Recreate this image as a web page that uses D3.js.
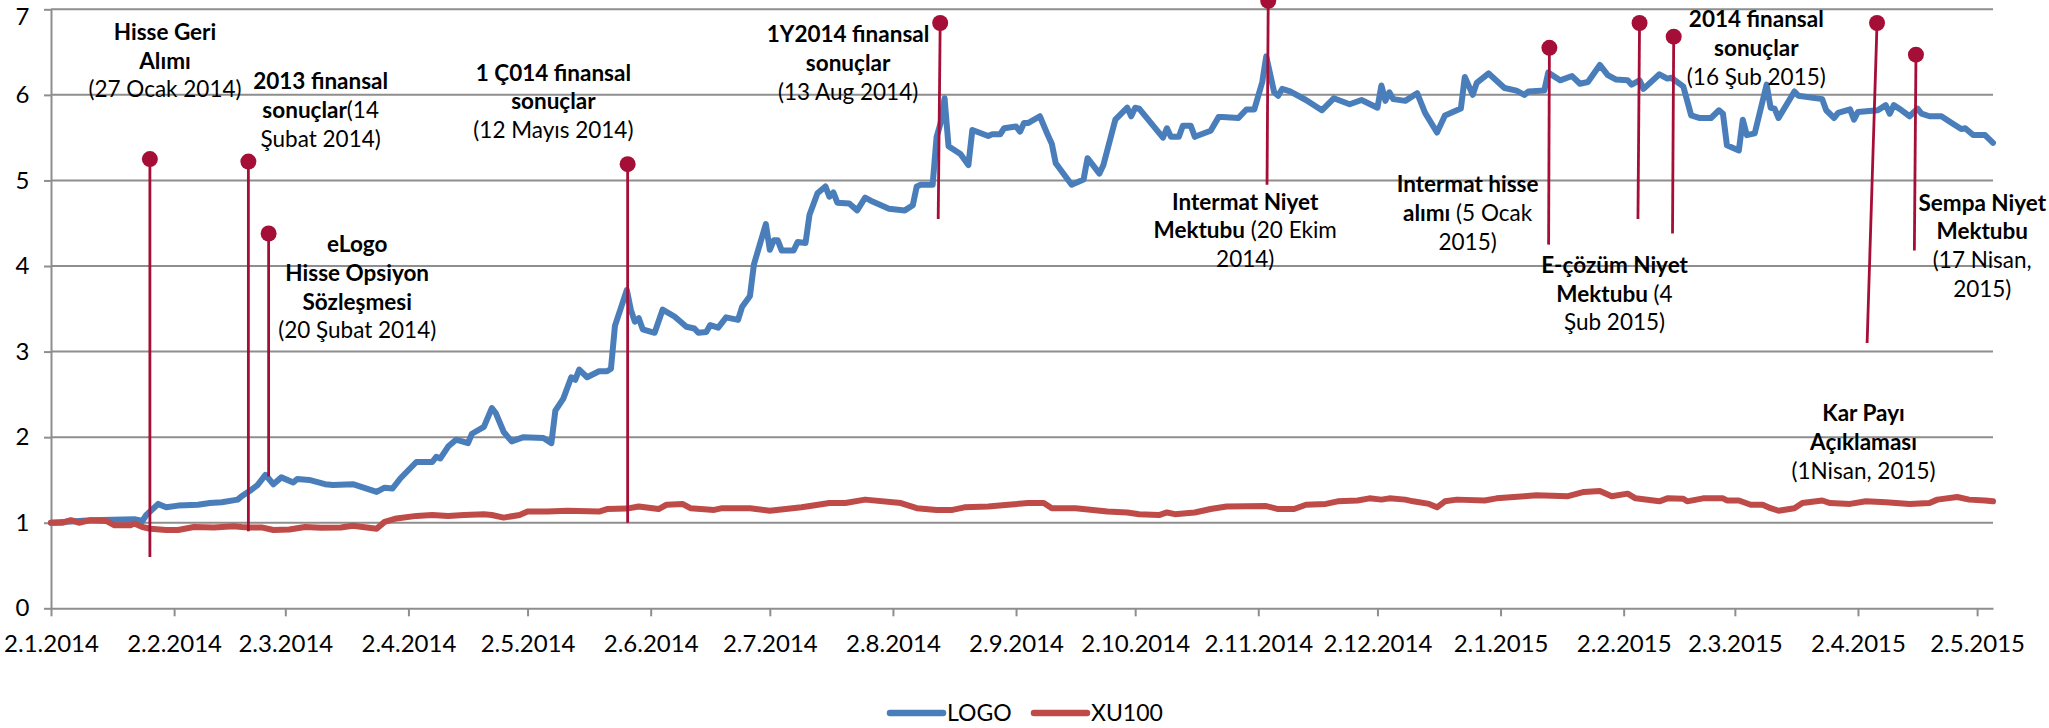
<!DOCTYPE html>
<html>
<head>
<meta charset="utf-8">
<script src="https://cdn.jsdelivr.net/npm/d3@7"></script>
<style>
	body { margin: 0; background: #fff; }
	#chart text { font-family: Lato, "Liberation Sans", Arial, sans-serif; fill: #000; }
</style>
</head>
<body>
<div id="chart"></div>
<script>
// LOGO vs XU100, both rebased to 1 on 2.1.2014
let startDate = "2.1.2014";

let xTickLabels = ["2.1.2014", "2.2.2014", "2.3.2014", "2.4.2014", "2.5.2014", "2.6.2014",
	"2.7.2014", "2.8.2014", "2.9.2014", "2.10.2014", "2.11.2014", "2.12.2014",
	"2.1.2015", "2.2.2015", "2.3.2015", "2.4.2015", "2.5.2015"];
let yTicks = [0, 1, 2, 3, 4, 5, 6, 7];

// days since startDate
let logoDays = [0,10,21,23,24,27,29,32,37,40,43,47,48,50,52,54,56,58,61,62,65,69,71,76,82,84,86,88,92,96,97,98,100,102,105,106,109,111,112,114,116,119,124,126,127,129,131,132,133,135,138,140,141,142,145,146,147,148,149,152,154,157,160,162,163,165,166,168,170,173,174,176,177,180,181,182,183,184,187,188,190,191,193,195,196,197,198,201,203,205,207,211,215,217,218,219,222,223,224,225,226,229,231,232,236,237,239,240,243,244,245,246,249,251,252,253,257,260,261,264,265,268,271,272,273,274,280,281,282,284,285,287,288,292,294,295,299,301,303,305,306,308,309,310,312,316,320,323,327,330,334,335,336,337,338,341,344,346,349,351,355,356,358,359,362,366,369,371,372,376,377,380,383,385,387,390,392,394,397,398,400,401,405,407,408,411,413,415,418,420,421,422,425,426,427,429,432,433,434,435,439,440,446,447,449,450,453,454,455,460,462,463,464,466,468,470,471,473,476,479,481,482,484,487,489];
let logoValues = [1.00,1.03,1.04,1.02,1.09,1.22,1.18,1.20,1.21,1.23,1.24,1.27,1.31,1.37,1.44,1.56,1.45,1.53,1.47,1.51,1.50,1.45,1.44,1.45,1.36,1.41,1.40,1.52,1.71,1.71,1.77,1.75,1.89,1.97,1.93,2.04,2.12,2.34,2.28,2.06,1.95,2.00,1.99,1.93,2.31,2.45,2.70,2.67,2.79,2.70,2.77,2.77,2.80,3.30,3.72,3.49,3.35,3.39,3.26,3.22,3.49,3.41,3.29,3.27,3.22,3.23,3.31,3.28,3.40,3.37,3.52,3.65,4.02,4.49,4.19,4.30,4.30,4.18,4.18,4.28,4.27,4.60,4.85,4.93,4.81,4.86,4.74,4.73,4.65,4.80,4.75,4.67,4.65,4.71,4.93,4.95,4.95,5.51,5.67,5.96,5.40,5.31,5.18,5.59,5.52,5.54,5.54,5.61,5.63,5.57,5.67,5.67,5.75,5.53,5.43,5.20,4.95,5.01,5.26,5.08,5.18,5.71,5.85,5.75,5.85,5.84,5.50,5.61,5.51,5.51,5.64,5.64,5.51,5.58,5.74,5.74,5.73,5.83,5.83,6.15,6.45,6.03,5.99,6.07,6.04,5.94,5.82,5.96,5.89,5.94,5.85,6.11,5.93,6.03,5.95,5.93,6.02,5.79,5.56,5.76,5.84,6.21,6.00,6.14,6.25,6.08,6.05,6.00,6.04,6.05,6.26,6.17,6.22,6.13,6.15,6.35,6.23,6.18,6.17,6.12,6.17,6.07,6.24,6.19,6.20,6.10,5.76,5.73,5.73,5.82,5.78,5.41,5.35,5.71,5.53,5.55,6.12,5.85,5.84,5.73,6.04,5.99,5.95,5.82,5.73,5.79,5.83,5.71,5.80,5.82,5.88,5.78,5.88,5.82,5.75,5.84,5.78,5.75,5.75,5.66,5.60,5.61,5.53,5.53,5.44];

let xuDays = [0,3,5,7,10,14,16,20,21,23,25,29,32,36,41,46,48,50,53,56,60,64,68,73,76,82,84,87,92,96,100,104,109,111,114,118,120,125,130,138,140,145,148,153,155,159,161,167,169,176,181,189,196,200,205,214,218,223,227,230,236,241,246,250,252,258,266,271,274,279,281,283,288,292,296,306,309,313,316,321,324,329,332,335,337,341,343,347,349,351,354,361,364,371,374,382,386,390,393,397,399,405,407,411,412,416,421,422,425,428,431,433,435,439,441,446,448,453,457,462,468,473,475,480,483,487,489];
let xuValues = [1.00,1.00,1.03,1.00,1.03,1.02,0.97,0.97,0.99,0.95,0.93,0.915,0.915,0.95,0.945,0.96,0.95,0.945,0.945,0.915,0.92,0.95,0.94,0.945,0.965,0.93,1.01,1.05,1.08,1.09,1.08,1.09,1.10,1.09,1.06,1.09,1.13,1.13,1.14,1.13,1.16,1.165,1.19,1.16,1.21,1.22,1.17,1.15,1.17,1.17,1.14,1.18,1.23,1.23,1.27,1.23,1.17,1.15,1.15,1.18,1.19,1.21,1.23,1.23,1.17,1.17,1.13,1.12,1.10,1.09,1.12,1.10,1.12,1.16,1.19,1.195,1.16,1.16,1.21,1.22,1.25,1.26,1.285,1.27,1.285,1.27,1.25,1.22,1.18,1.25,1.27,1.26,1.285,1.31,1.32,1.31,1.36,1.37,1.31,1.34,1.285,1.25,1.285,1.28,1.25,1.285,1.285,1.26,1.26,1.21,1.21,1.17,1.14,1.17,1.23,1.26,1.23,1.22,1.25,1.24,1.22,1.23,1.27,1.30,1.27,1.26,1.25];

// event pins: head and foot of each pin (day, value)
let pinHeadDays = [24.9, 49.7, 54.8, 145.2, 223.9, 306.5, 377.3, 400.0, 408.6, 459.8, 469.6];
let pinFootDays = [24.9, 49.7, 54.8, 145.2, 223.4, 306.2, 377.1, 399.6, 408.3, 457.3, 469.2];
let pinHeadValues = [5.25, 5.22, 4.38, 5.19, 6.84, 7.10, 6.55, 6.84, 6.68, 6.84, 6.47];
let pinFootValues = [0.60, 0.90, 1.54, 1.00, 4.55, 4.95, 4.25, 4.55, 4.38, 3.10, 4.18];

// notes, *...* is bold; anchored at the centre of the first line
let noteLines = [
	["*Hisse Geri*", "*Alımı*", "(27 Ocak 2014)"],
	["*2013 finansal*", "*sonuçlar*(14", "Şubat 2014)"],
	["*1 Ç014 finansal*", "*sonuçlar*", "(12 Mayıs 2014)"],
	["*eLogo*", "*Hisse Opsiyon*", "*Sözleşmesi*", "(20 Şubat 2014)"],
	["*1Y2014 finansal*", "*sonuçlar*", "(13 Aug 2014)"],
	["*Intermat Niyet*", "*Mektubu* (20 Ekim", "2014)"],
	["*Intermat hisse*", "*alımı* (5 Ocak", "2015)"],
	["*E-çözüm Niyet*", "*Mektubu* (4", "Şub 2015)"],
	["*2014 finansal*", "*sonuçlar*", "(16 Şub 2015)"],
	["*Sempa Niyet*", "*Mektubu*", "(17 Nisan,", "2015)"],
	["*Kar Payı*", "*Açıklaması*", "(1Nisan, 2015)"]
];
let noteDays = [28.7, 67.9, 126.5, 77.1, 200.7, 300.7, 356.7, 393.7, 429.4, 486.3, 456.4];
let noteValues = [6.735, 6.162, 6.26, 4.254, 6.708, 4.752, 4.955, 4.012, 6.883, 4.740, 2.279];

let seriesNames = ["LOGO", "XU100"];
let seriesColors = ["#4a7ebb", "#be4b48"];

function logoChart() {
	let container = "#chart",
		window_w = 2049,
		window_h = 728;

	let margin = {top: 9.3, right: 56, bottom: 119.7, left: 51},
		width = window_w - (margin.left + margin.right),
		height = window_h - (margin.top + margin.bottom);

	let gridColor = "#8e8e8e",
		pinColor = "#a50f37",
		lineGap = 28.7,
		noteSize = 22.5;

	let parseDate = d3.utcParse("%d.%m.%Y");
	let start = parseDate(startDate);
	let dayToDate = function (d) {
		return new Date(start.getTime() + d * 864e5);
	};

	let svg = d3.select(container)
		.append("svg")
		.attr("width", window_w)
		.attr("height", window_h);

	let plot = svg.append("g")
		.attr("transform", "translate(" + margin.left + "," + margin.top + ")");

	let x = d3.scaleUtc()
		.domain([start, dayToDate(logoDays[logoDays.length - 1])])
		.range([0, width]);

	let y = d3.scaleLinear()
		.domain([0, 7])
		.range([height, 0]);

	// gridlines
	plot.append("g")
		.attr("class", "grid")
		.selectAll("line")
		.data(yTicks.filter(function (t) { return t > 0; }))
		.join("line")
		.attr("x1", 0)
		.attr("x2", width)
		.attr("y1", function (d) { return y(d); })
		.attr("y2", function (d) { return y(d); })
		.attr("stroke", gridColor)
		.attr("stroke-width", 2);

	// axes
	let yAxis = plot.append("g")
		.call(d3.axisLeft(y)
			.tickValues(yTicks)
			.tickSize(7)
			.tickSizeOuter(0)
			.tickPadding(14.5)
			.tickFormat(d3.format("d")));

	let xAxis = plot.append("g")
		.attr("transform", "translate(0," + height + ")")
		.call(d3.axisBottom(x)
			.tickValues(xTickLabels.map(parseDate))
			.tickSize(8)
			.tickSizeOuter(0)
			.tickPadding(18.7)
			.tickFormat(function (d, i) { return xTickLabels[i]; }));

	[yAxis, xAxis].forEach(function (a) {
		a.attr("font-family", null).attr("font-size", 24);
		a.selectAll("line, path").attr("stroke", gridColor).attr("stroke-width", 2);
	});

	// top label sits on the page edge, nudge it so it is not clipped
	yAxis.selectAll(".tick text")
		.filter(function (d) { return d === 7; })
		.attr("y", 7.5);

	// series
	let line = d3.line()
		.x(function (d) { return x(dayToDate(d[0])); })
		.y(function (d) { return y(d[1]); });

	let series = [d3.zip(logoDays, logoValues), d3.zip(xuDays, xuValues)];

	plot.append("g")
		.attr("class", "series")
		.selectAll("path")
		.data(series)
		.join("path")
		.attr("d", line)
		.attr("fill", "none")
		.attr("stroke", function (d, i) { return seriesColors[i]; })
		.attr("stroke-width", 6)
		.attr("stroke-linejoin", "round")
		.attr("stroke-linecap", "round");

	// event pins
	let pins = plot.append("g")
		.attr("class", "pins")
		.selectAll("g")
		.data(pinHeadDays)
		.join("g");

	pins.append("line")
		.attr("x1", function (d, i) { return x(dayToDate(pinHeadDays[i])); })
		.attr("y1", function (d, i) { return y(pinHeadValues[i]); })
		.attr("x2", function (d, i) { return x(dayToDate(pinFootDays[i])); })
		.attr("y2", function (d, i) { return y(pinFootValues[i]); })
		.attr("stroke", pinColor)
		.attr("stroke-width", 2.8);

	pins.append("circle")
		.attr("cx", function (d, i) { return x(dayToDate(pinHeadDays[i])); })
		.attr("cy", function (d, i) { return y(pinHeadValues[i]); })
		.attr("r", 8)
		.attr("fill", pinColor);

	// notes
	let notes = plot.append("g")
		.attr("class", "notes")
		.selectAll("g")
		.data(noteLines)
		.join("g")
		.attr("transform", function (d, i) {
			return "translate(" + x(dayToDate(noteDays[i])) + "," + y(noteValues[i]) + ")";
		});

	notes.each(function (lines) {
		let g = d3.select(this);
		lines.forEach(function (txt, k) {
			let t = g.append("text")
				.attr("text-anchor", "middle")
				.attr("y", k * lineGap + noteSize * 0.36)
				.attr("font-size", noteSize);
			txt.split("*").forEach(function (part, j) {
				if (part === "") return;
				t.append("tspan")
					.attr("font-weight", j % 2 === 1 ? "bold" : "normal")
					.text(part);
			});
		});
	});

	// legend
	let legendX = [890, 1034];
	let legend = svg.append("g")
		.attr("class", "legend")
		.selectAll("g")
		.data(seriesNames)
		.join("g")
		.attr("transform", function (d, i) { return "translate(" + legendX[i] + ",713)"; });

	legend.append("line")
		.attr("x1", 0)
		.attr("x2", 53)
		.attr("stroke", function (d, i) { return seriesColors[i]; })
		.attr("stroke-width", 6.5)
		.attr("stroke-linecap", "round");

	legend.append("text")
		.attr("x", 57)
		.attr("y", 8.3)
		.attr("font-size", 23)
		.text(function (d) { return d; });
}

logoChart();
</script>
</body>
</html>
